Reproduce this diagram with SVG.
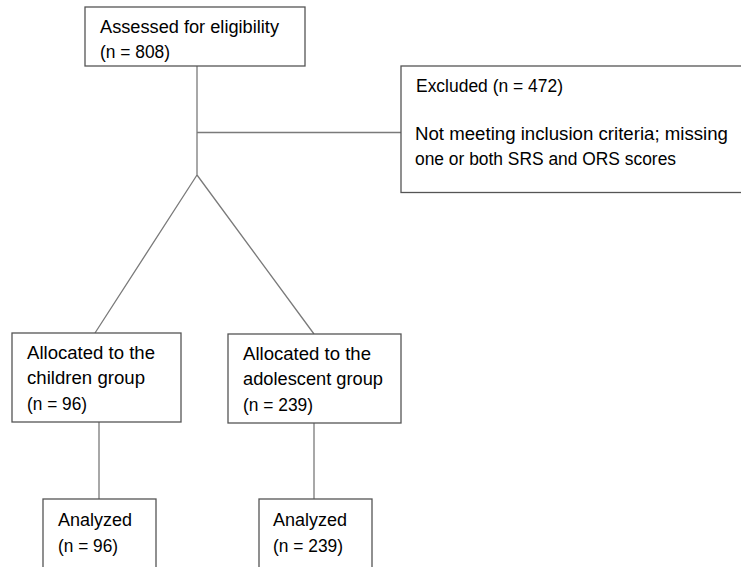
<svg xmlns="http://www.w3.org/2000/svg" width="741" height="567" viewBox="0 0 741 567">
<style>
.box{fill:#fff;stroke:#555;stroke-width:1.3}
.ln{fill:none;stroke:#7a7a7a;stroke-width:1.3}
text{font-family:"Liberation Sans",Arial,sans-serif;font-size:17.5px;fill:#000}
</style>
<rect width="741" height="567" fill="#fff"/>
<g id="connectors">
<path class="ln" d="M197 66V175M197 132.5H401M197 175L95 333M197 175L314 334M99 422V499M314 423V499"/>
</g>
<g id="assessed">
<rect class="box" x="85" y="7" width="220" height="59"/>
<text x="100" y="33" textLength="179" lengthAdjust="spacingAndGlyphs">Assessed for eligibility</text>
<text x="100" y="58" textLength="70" lengthAdjust="spacingAndGlyphs">(n = 808)</text>
</g>
<g id="excluded">
<rect class="box" x="401" y="66" width="345" height="126.5"/>
<text x="416" y="92" textLength="147" lengthAdjust="spacingAndGlyphs">Excluded (n = 472)</text>
<text x="415" y="140" textLength="313" lengthAdjust="spacingAndGlyphs">Not meeting inclusion criteria; missing</text>
<text x="415" y="165" textLength="261" lengthAdjust="spacingAndGlyphs">one or both SRS and ORS scores</text>
</g>
<g id="children">
<rect class="box" x="12" y="333" width="169" height="89"/>
<text x="27" y="359" textLength="128" lengthAdjust="spacingAndGlyphs">Allocated to the</text>
<text x="27" y="384" textLength="118" lengthAdjust="spacingAndGlyphs">children group</text>
<text x="27" y="410" textLength="60" lengthAdjust="spacingAndGlyphs">(n = 96)</text>
</g>
<g id="adolescent">
<rect class="box" x="228" y="334" width="173" height="89"/>
<text x="243" y="360" textLength="128" lengthAdjust="spacingAndGlyphs">Allocated to the</text>
<text x="243" y="385" textLength="140" lengthAdjust="spacingAndGlyphs">adolescent group</text>
<text x="243" y="411" textLength="70" lengthAdjust="spacingAndGlyphs">(n = 239)</text>
</g>
<g id="analyzed-children">
<rect class="box" x="43" y="499" width="113" height="80"/>
<text x="58" y="526" textLength="74" lengthAdjust="spacingAndGlyphs">Analyzed</text>
<text x="58" y="552" textLength="60" lengthAdjust="spacingAndGlyphs">(n = 96)</text>
</g>
<g id="analyzed-adolescent">
<rect class="box" x="259" y="499" width="113" height="80"/>
<text x="273" y="526" textLength="74" lengthAdjust="spacingAndGlyphs">Analyzed</text>
<text x="273" y="552" textLength="70" lengthAdjust="spacingAndGlyphs">(n = 239)</text>
</g>
</svg>
